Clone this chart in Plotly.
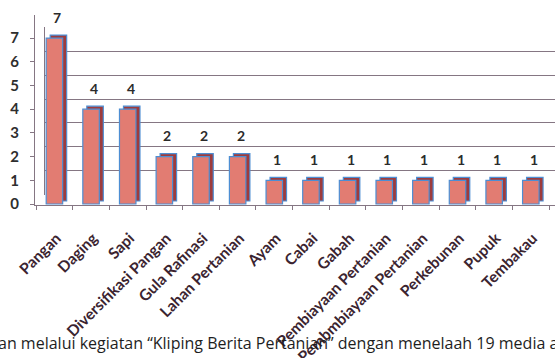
import plotly.graph_objects as go

categories = ["Pangan", "Daging", "Sapi", "Diversifikasi Pangan", "Gula Rafinasi",
              "Lahan Pertanian", "Ayam", "Cabai", "Gabah", "Pembiayaan Pertanian",
              "Pembmbiayaan Pertanian", "Perkebunan", "Pupuk", "Tembakau"]
values = [7, 4, 4, 2, 2, 2, 1, 1, 1, 1, 1, 1, 1, 1]
y_ticks = [0, 1, 2, 3, 4, 5, 6, 7]
caption = "an melalui kegiatan \u201cKliping Berita Pertanian\u201d dengan menelaah 19 media a"

W, H = 555, 358
L, R, T, B = 35, 0, 15, 153
PW, PH = W - L - R, H - T - B
n = len(categories)

FONT = "Lato"
front_col = "#e27c72"
side_col = "#9e3b3c"
edge_col = "#4d8ed3"
grid_col = "#857683"

fig = go.Figure()

# back wall grid subplot
fig.add_trace(go.Scatter(x=[0, 1], y=[0, 1], xaxis="x", yaxis="y", mode="markers",
                         marker=dict(opacity=0, size=1), hoverinfo="skip", showlegend=False))
# shadow (depth) bars
fig.add_trace(go.Bar(x=categories, y=values, xaxis="x2", yaxis="y2", width=0.45,
                     marker=dict(color=side_col, line=dict(color=edge_col, width=1.2)),
                     hoverinfo="skip", showlegend=False))
# front bars
fig.add_trace(go.Bar(x=categories, y=values, xaxis="x3", yaxis="y3", width=0.45,
                     marker=dict(color=front_col, line=dict(color=edge_col, width=1.2)),
                     showlegend=False))

for c, v in zip(categories, values):
    fig.add_annotation(x=c, y=v, xref="x3", yref="y3", text=f"<b>{v}</b>",
                       showarrow=False, yshift=21, xshift=3,
                       font=dict(family=FONT, size=14, color="#2b2b2b"))

fig.add_annotation(x=(-4 - L) / PW, y=(H - B - 343) / PH,
                   xref="paper", yref="paper", xanchor="left", yanchor="middle",
                   text=caption, showarrow=False,
                   font=dict(family="Open Sans", size=16, color="#1e1e1e"))

fig.update_layout(
    width=W, height=H,
    margin=dict(l=L, r=R, t=T, b=B, autoexpand=False),
    paper_bgcolor="white", plot_bgcolor="rgba(0,0,0,0)",
    # back wall: from x=45px to right edge, y from 27px (7) to 195px (0)
    xaxis=dict(domain=[10 / PW, 1], range=[0, 1], showgrid=False, zeroline=False,
               showticklabels=False, ticks="", automargin=False),
    yaxis=dict(domain=[(205 - 195) / PH, (205 - 27) / PH], range=[-0.002, 7.002],
               tickvals=y_ticks, showgrid=True, gridcolor=grid_col, gridwidth=1.3,
               zeroline=False, showline=True, linecolor=grid_col, linewidth=1.3,
               showticklabels=False, ticks="", automargin=False),
    xaxis2=dict(domain=[0, 1], anchor="y2", type="category",
                range=[-0.53 - 4 / 36.65, 13.66 - 4 / 36.65],
                visible=False, automargin=False),
    yaxis2=dict(domain=[0, 1], anchor="x2", range=[-4 / 23.7, (201 - T) / 23.7],
                visible=False, automargin=False),
    xaxis3=dict(overlaying="x2", anchor="y3", type="category", range=[-0.53, 13.66],
                tickangle=-45, showline=True, linecolor=grid_col, linewidth=1.3,
                showgrid=False, zeroline=False, tickson="boundaries", ticks="outside",
                ticklen=4, tickcolor=grid_col, automargin=False,
                ticklabelstandoff=17, ticklabelshift=2,
                tickfont=dict(family=FONT, size=15.5, color="#3b2430", weight="bold")),
    yaxis3=dict(overlaying="y2", anchor="x3", range=[-1 / 23.7, (204 - T) / 23.7],
                tickvals=y_ticks,
                showline=True, linecolor=grid_col, linewidth=1.3, showgrid=False,
                zeroline=False, ticks="outside", ticklen=4, tickcolor=grid_col,
                ticklabelstandoff=8, automargin=False,
                tickfont=dict(family=FONT, size=15, color="#2e2e2e", weight="bold")),
)

fig.write_html("out.html", config={"displayModeBar": False},
               post_script="document.body.style.margin='0';")
